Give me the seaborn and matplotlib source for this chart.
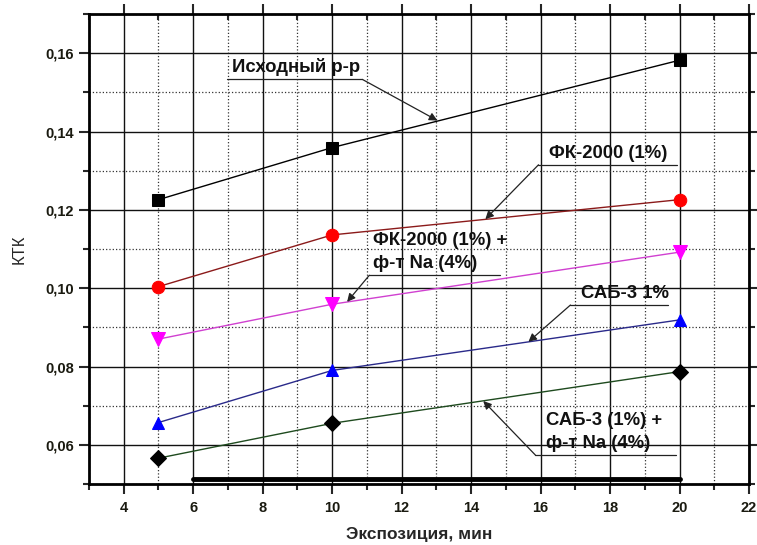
import numpy as np
import pandas as pd
import matplotlib
matplotlib.use("Agg")
import matplotlib.pyplot as plt
from matplotlib.ticker import MultipleLocator, FuncFormatter
import seaborn as sns

# exposure time, min
time_min = [5, 10, 20]

# KTK values per solution
ktk_base = [0.1226, 0.1359, 0.1582]
ktk_fk = [0.1004, 0.1136, 0.1226]
ktk_fk_na = [0.0870, 0.0959, 0.1092]
ktk_sab = [0.0657, 0.0790, 0.0919]
ktk_sab_na = [0.0566, 0.0655, 0.0787]

series_names = ["Исходный р-р", "ФК-2000 (1%)", "ФК-2000 (1%) +\nф-т Na (4%)",
                "САБ-3 1%", "САБ-3 (1%) +\nф-т Na (4%)"]

# thick baseline seen in the original figure
base_x = [6, 20]
base_y = [0.0513, 0.0513]

# callout positions: underline start/end, arrow tip (data coords)
line_x0 = [6.98, 15.94, 11.07, 16.86, 15.85]
line_x1 = [10.87, 19.92, 14.84, 19.66, 19.89]
line_y = [0.1533, 0.1315, 0.1033, 0.0957, 0.0574]
tip_x = [13.03, 14.41, 10.43, 15.65, 14.35]
tip_y = [0.1428, 0.1176, 0.0965, 0.0863, 0.0712]

sns.set_style("white")
plt.rcParams['font.family'] = ['Liberation Sans', 'DejaVu Sans']

df = pd.DataFrame({
    'time': time_min * 5,
    'ktk': ktk_base + ktk_fk + ktk_fk_na + ktk_sab + ktk_sab_na,
    'series': np.repeat(series_names, len(time_min)),
})

line_colors = ['#000000', '#8b1a1a', '#d040d0', '#2a2a8a', '#1e4a1e']
marker_colors = ['#000000', '#ff0000', '#ff00ff', '#0000ff', '#000000']
markers = ['s', 'o', 'v', '^', 'D']
msizes = [8, 9, 10, 9, 8]

fig = plt.figure(figsize=(7.57, 5.45), dpi=100)
ax = fig.add_axes([0.1176, 0.1119, 0.8718, 0.8624])

for name, lc, mc, mk, ms in zip(series_names, line_colors, marker_colors, markers, msizes):
    sns.lineplot(data=df[df['series'] == name], x='time', y='ktk', ax=ax,
                 color=lc, marker=mk, markersize=ms, markerfacecolor=mc,
                 markeredgecolor=mc, linewidth=1.0, zorder=3)

sns.lineplot(x=base_x, y=base_y, ax=ax, color='black', linewidth=3.5, zorder=3)

# callouts
text_dx = [0.15, 0.3, 0.1, 0.3, 0.3]
for i, name in enumerate(series_names):
    ax.plot([line_x0[i], line_x1[i]], [line_y[i], line_y[i]], color='#222222', lw=0.9, zorder=4)
    start = (line_x1[i], line_y[i]) if i == 0 else (line_x0[i], line_y[i])
    ax.annotate('', xy=(tip_x[i], tip_y[i]), xytext=start,
                arrowprops=dict(arrowstyle='-|>', color='#222222', lw=0.9,
                                mutation_scale=12, shrinkA=0, shrinkB=0), zorder=4)
    ax.text(line_x0[i] + text_dx[i], line_y[i] + 0.0008, name, fontsize=13.3,
            fontweight='bold', color='#111111', va='bottom', ha='left',
            linespacing=1.45, zorder=5)

ax.set_xlim(3, 22)
ax.set_ylim(0.05, 0.17)
ax.xaxis.set_major_locator(MultipleLocator(2))
ax.xaxis.set_minor_locator(MultipleLocator(1))
ax.yaxis.set_major_locator(MultipleLocator(0.02))
ax.yaxis.set_minor_locator(MultipleLocator(0.01))
ax.yaxis.set_major_formatter(FuncFormatter(lambda v, p: f"{v:.2f}".replace('.', ',')))

ax.grid(which='major', color='#111111', linestyle='-', linewidth=1.0, zorder=1)
ax.grid(which='minor', color='#333333', linestyle=':', linewidth=0.9, zorder=1)
ax.set_axisbelow(True)

for sp in ax.spines.values():
    sp.set_visible(True)
    sp.set_color('black')
    sp.set_linewidth(2.0)

ax.tick_params(which='both', bottom=True, left=True, top=True, right=True,
               width=1.5, direction='out')
ax.tick_params(which='major', length=7)
ax.tick_params(which='minor', length=4)
for t in ax.xaxis.get_major_ticks() + ax.xaxis.get_minor_ticks():
    t.tick2line.set_marker(3)  # top ticks pointing inward
for t in ax.yaxis.get_major_ticks() + ax.yaxis.get_minor_ticks():
    t.tick2line.set_marker(1)  # right ticks pointing inward
ax.tick_params(axis='x', labelsize=10.5, pad=5)
ax.tick_params(axis='y', labelsize=10.5, pad=4)
for lab in ax.get_xticklabels() + ax.get_yticklabels():
    lab.set_fontweight('bold')
    lab.set_color('#1a1a10')

ax.set_xlabel('Экспозиция, мин', fontsize=12.5, fontweight='bold', labelpad=9)
ax.set_ylabel('КТК', fontsize=12, labelpad=13)

plt.savefig('out.png', dpi=100)
